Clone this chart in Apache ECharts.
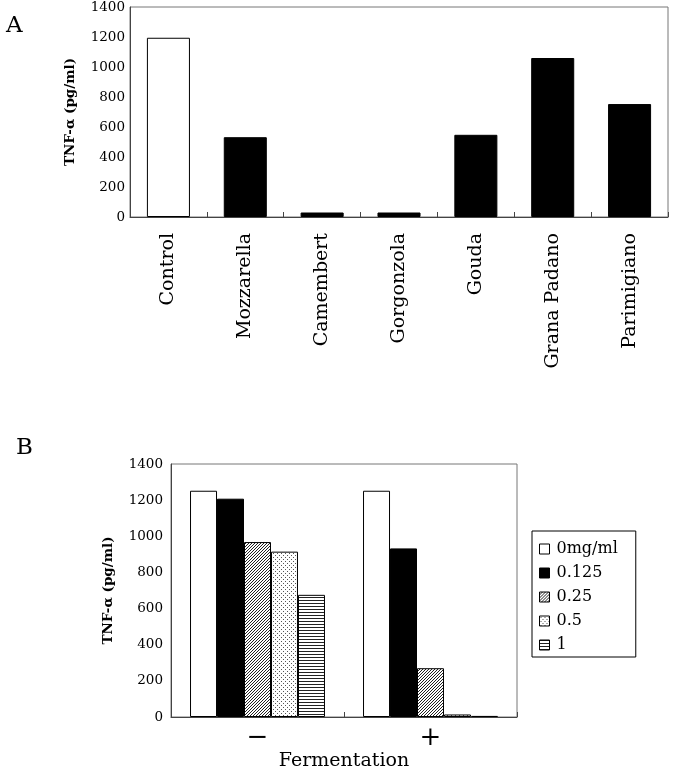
<!DOCTYPE html>
<html>
<head>
<meta charset="utf-8">
<script src="https://cdn.jsdelivr.net/npm/echarts@6/dist/echarts.min.js"></script>
<style>
html,body{margin:0;padding:0;background:#fff;}
#chart{width:674px;height:766px;}
</style>
</head>
<body>
<div id="chart"></div>
<script>
// ---- Data ----
const cheeseCategories = ['Control','Mozzarella','Camembert','Gorgonzola','Gouda','Grana Padano','Parimigiano'];
const cheeseValues = [1195, 532, 30, 30, 548, 1060, 753];
const yTicksA = [0, 200, 400, 600, 800, 1000, 1200, 1400];

const fermCategories = ['−', '+'];
const doseNames = ['0mg/ml', '0.125', '0.25', '0.5', '1'];
const dose0 = [1252, 1252];
const dose0125 = [1208, 933];
const dose025 = [968, 270];
const dose05 = [915, 14];
const dose1 = [676, 6];
const yTicksB = [0, 200, 400, 600, 800, 1000, 1200, 1400];

// ---- Patterns ----
function makePattern(w, h, draw) {
  const c = document.createElement('canvas');
  c.width = w; c.height = h;
  const ctx = c.getContext('2d');
  ctx.fillStyle = '#fff';
  ctx.fillRect(0, 0, w, h);
  ctx.fillStyle = '#000';
  draw(ctx);
  return { image: c, repeat: 'repeat' };
}
const diagPattern = makePattern(3, 3, ctx => {
  ctx.fillStyle = '#222';
  for (let i = 0; i < 3; i++) ctx.fillRect(i, 2 - i, 1, 1);
});
const dotPattern = makePattern(4, 4, ctx => {
  ctx.fillStyle = '#555';
  ctx.fillRect(1, 1, 1, 1);
  ctx.fillRect(3, 3, 1, 1);
});
const hlinePattern = makePattern(4, 3, ctx => {
  ctx.fillStyle = '#222';
  ctx.fillRect(0, 0, 4, 1);
});
const doseFills = ['#fff', '#000', diagPattern, dotPattern, hlinePattern];
const doseData = [dose0, dose0125, dose025, dose05, dose1];

const serif = 'DejaVu Serif';
const axisColor = '#444';
const boxColor = '#777';
const plainNum = v => String(v);

const chart = echarts.init(document.getElementById('chart'), null, { renderer: 'canvas' });

const seriesB = doseNames.map((name, i) => ({
  name: name,
  type: 'bar',
  xAxisIndex: 1,
  yAxisIndex: 1,
  data: doseData[i],
  barGap: '0%',
  barCategoryGap: '22%',
  itemStyle: { color: doseFills[i], borderColor: '#000', borderWidth: 1 },
  emphasis: { disabled: true }
}));

const option = {
  animation: false,
  graphic: [
    { type: 'text', left: 6, top: 15, style: { text: 'A', font: '23px "DejaVu Serif"', fill: '#000' } },
    { type: 'text', left: 16, top: 437, style: { text: 'B', font: '23px "DejaVu Serif"', fill: '#000' } }
  ],
  legend: {
    data: doseNames,
    orient: 'vertical',
    left: 532,
    top: 531,
    padding: [10, 18, 4, 7],
    itemGap: 8,
    itemWidth: 10,
    itemHeight: 10,
    borderColor: '#000',
    borderWidth: 1,
    borderRadius: 0,
    selectedMode: false,
    icon: 'rect',
    itemStyle: { borderColor: '#000', borderWidth: 1 },
    textStyle: { fontFamily: serif, fontSize: 16, color: '#000', padding: [0, 0, 0, 2] }
  },
  grid: [
    { left: 130, right: 6, top: 7, bottom: 549, show: true, borderColor: boxColor, borderWidth: 1, backgroundColor: 'transparent', containLabel: false, outerBoundsMode: 'none' },
    { left: 171, right: 157, top: 464, bottom: 49, show: true, borderColor: boxColor, borderWidth: 1, backgroundColor: 'transparent', containLabel: false, outerBoundsMode: 'none' }
  ],
  xAxis: [
    {
      type: 'category', gridIndex: 0, data: cheeseCategories,
      axisLine: { lineStyle: { color: axisColor, width: 1 } },
      axisTick: { show: true, inside: true, length: 5, lineStyle: { color: axisColor } },
      axisLabel: { rotate: 90, margin: 16, fontFamily: serif, fontSize: 19, color: '#000', interval: 0 }
    },
    {
      type: 'category', gridIndex: 1, data: fermCategories,
      name: 'Fermentation', nameLocation: 'middle', nameGap: 26,
      nameTextStyle: { fontFamily: serif, fontSize: 19, color: '#000' },
      axisLine: { lineStyle: { color: axisColor, width: 1 } },
      axisTick: { show: true, inside: true, length: 5, lineStyle: { color: axisColor } },
      axisLabel: { margin: 8, fontFamily: serif, fontSize: 26, color: '#000', interval: 0 }
    }
  ],
  yAxis: [
    {
      type: 'value', gridIndex: 0, min: yTicksA[0], max: yTicksA[yTicksA.length - 1], interval: 200,
      name: 'TNF-α (pg/ml)', nameLocation: 'middle', nameGap: 53,
      nameTextStyle: { fontFamily: serif, fontSize: 13.5, fontWeight: 'bold', color: '#000' },
      axisLine: { show: true, lineStyle: { color: axisColor, width: 1 } },
      axisTick: { show: false },
      splitLine: { show: false },
      axisLabel: { margin: 5, fontFamily: serif, fontSize: 13.5, color: '#000', formatter: plainNum }
    },
    {
      type: 'value', gridIndex: 1, min: yTicksB[0], max: yTicksB[yTicksB.length - 1], interval: 200,
      name: 'TNF-α (pg/ml)', nameLocation: 'middle', nameGap: 56,
      nameTextStyle: { fontFamily: serif, fontSize: 13.5, fontWeight: 'bold', color: '#000' },
      axisLine: { show: true, lineStyle: { color: axisColor, width: 1 } },
      axisTick: { show: false },
      splitLine: { show: false },
      axisLabel: { margin: 8, fontFamily: serif, fontSize: 13.5, color: '#000', formatter: plainNum }
    }
  ],
  series: [
    {
      name: 'cheese',
      type: 'bar',
      xAxisIndex: 0,
      yAxisIndex: 0,
      barWidth: '56%',
      data: cheeseValues.map((v, i) => ({
        value: v,
        itemStyle: { color: i === 0 ? '#fff' : '#000', borderColor: '#000', borderWidth: 1 }
      })),
      emphasis: { disabled: true }
    }
  ].concat(seriesB)
};

chart.setOption(option);
</script>
</body>
</html>
